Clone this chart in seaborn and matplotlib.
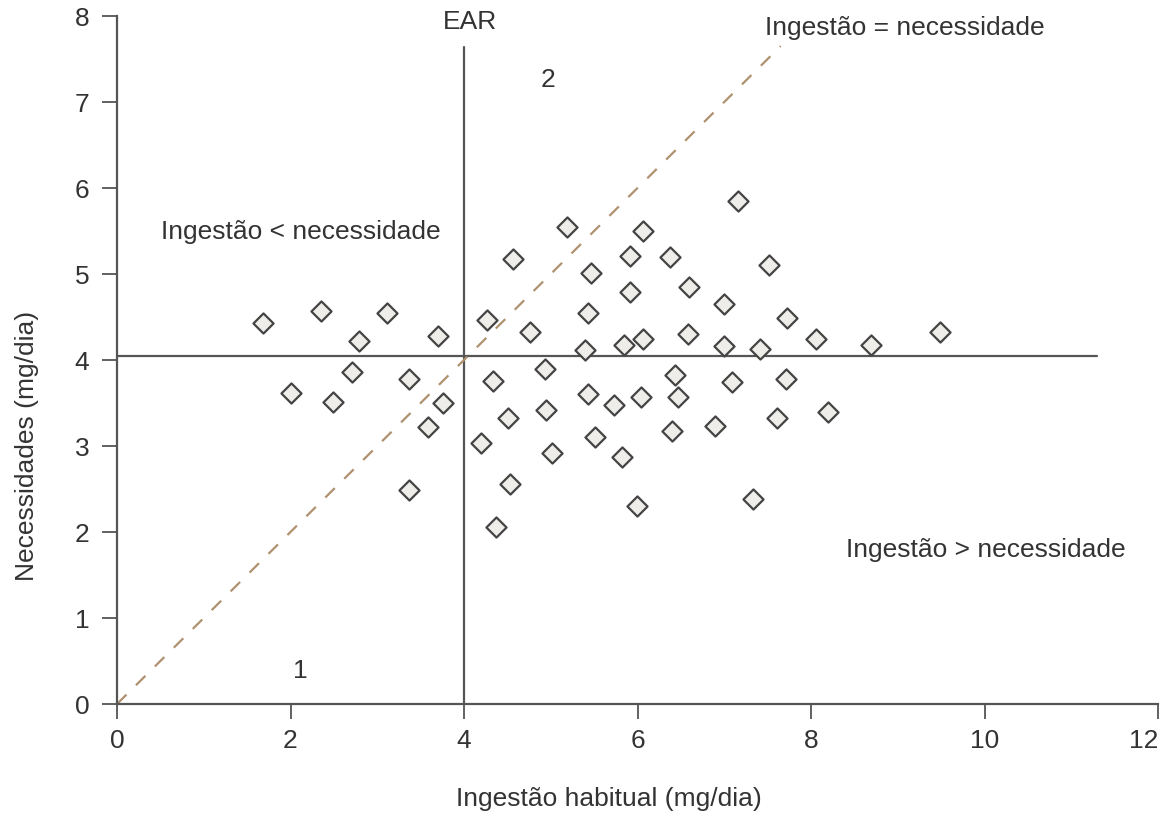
import numpy as np
import pandas as pd
import matplotlib
matplotlib.use("Agg")
import matplotlib.pyplot as plt
import seaborn as sns

# ---- data ----
ingestao = [1.68, 2.35, 3.11, 2.79, 3.70, 4.27, 2.71, 3.37, 2.00, 2.49, 3.76, 3.59,
            4.20, 3.37, 4.34, 7.16, 5.19, 6.06, 4.56, 5.91, 6.38, 7.52, 5.46, 5.91,
            6.59, 7.00, 5.43, 4.76, 7.72, 5.39, 5.84, 6.06, 6.58, 7.00, 7.41, 8.06,
            8.69, 4.93, 6.43, 7.09, 7.71, 5.43, 5.73, 6.04, 6.47, 4.51, 4.94, 7.61,
            8.20, 5.02, 5.51, 6.40, 6.89, 5.82, 4.53, 5.99, 7.33, 4.37, 9.49]
necessidade = [4.43, 4.57, 4.55, 4.22, 4.28, 4.47, 3.86, 3.78, 3.62, 3.51, 3.50, 3.22,
               3.03, 2.49, 3.76, 5.85, 5.55, 5.50, 5.17, 5.21, 5.20, 5.10, 5.01, 4.79,
               4.85, 4.65, 4.55, 4.32, 4.49, 4.12, 4.17, 4.24, 4.30, 4.16, 4.13, 4.24,
               4.17, 3.89, 3.83, 3.75, 3.78, 3.61, 3.48, 3.57, 3.57, 3.32, 3.42, 3.33,
               3.39, 2.92, 3.10, 3.18, 3.23, 2.87, 2.56, 2.30, 2.38, 2.06, 4.32]

ear_x = 4.0
ear_top = 7.64
req_mean = 4.05
req_line_end = 11.3
diag = [0.0, 7.65]

x_ticks = [0, 2, 4, 6, 8, 10, 12]
y_ticks = [0, 1, 2, 3, 4, 5, 6, 7, 8]

annotations = [
    ("EAR", 4.07, 7.93, "center"),
    ("Ingestão = necessidade", 7.47, 7.86, "left"),
    ("2", 4.97, 7.26, "center"),
    ("Ingestão < necessidade", 0.51, 5.49, "left"),
    ("Ingestão > necessidade", 8.40, 1.79, "left"),
    ("1", 2.11, 0.38, "center"),
]

# ---- styling ----
sns.set_theme(style="white")
plt.rcParams['font.family'] = ['Liberation Sans', 'DejaVu Sans']
FS = 19
TXT = "#333333"
AX = "#555555"

fig = plt.figure(figsize=(11.61, 8.16), dpi=100)
ax = fig.add_axes([117 / 1161, 1 - 704 / 816, (1158 - 117) / 1161, (704 - 16) / 816])

df = pd.DataFrame({"x": ingestao, "y": necessidade})

# reference lines
ax.plot([ear_x, ear_x], [0, ear_top], color=AX, lw=1.6, zorder=1)
ax.plot([0, req_line_end], [req_mean, req_mean], color=AX, lw=1.6, zorder=1)
sns.lineplot(x=diag, y=diag, ax=ax, color="#b0916f", lw=1.6,
             dashes=False, zorder=1).lines[-1].set_dashes([6, 6])

sns.scatterplot(data=df, x="x", y="y", ax=ax, marker="D", s=105,
                facecolor="#efede9", edgecolor="#444444", linewidth=1.6, zorder=3)

ax.set_xlim(0, 12)
ax.set_ylim(0, 8)
ax.set_xticks(x_ticks)
ax.set_yticks(y_ticks)
ax.set_xticklabels([str(t) for t in x_ticks])
ax.set_yticklabels([str(t) for t in y_ticks])

for s in ["top", "right"]:
    ax.spines[s].set_visible(False)
for s in ["left", "bottom"]:
    ax.spines[s].set_color(AX)
    ax.spines[s].set_linewidth(1.6)

ax.tick_params(axis="both", direction="out", length=11, width=1.3, color=AX,
               labelsize=FS, labelcolor=TXT)
ax.tick_params(axis="x", pad=7)
ax.tick_params(axis="y", pad=9)
ax.tick_params(bottom=True, left=True)

# last x tick label sits to the left of its tick, inside the picture
ax.get_xticklabels()[-1].set_horizontalalignment("right")

ax.set_xlabel("Ingestão habitual (mg/dia)", fontsize=FS, color=TXT, va="center")
ax.set_ylabel("Necessidades (mg/dia)", fontsize=FS, color=TXT, va="center")
ax.xaxis.set_label_coords((609 - 117) / 1041, (704 - 799) / 688)
ax.yaxis.set_label_coords((27 - 117) / 1041, (704 - 446) / 688)

for txt, x, y, ha in annotations:
    ax.text(x, y, txt, fontsize=FS, color=TXT, ha=ha, va="center", clip_on=False)

ax.set_facecolor("white")
fig.patch.set_facecolor("white")
fig.savefig("out.png", dpi=100)
